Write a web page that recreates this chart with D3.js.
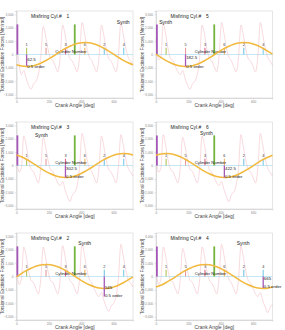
<!DOCTYPE html>
<html>
<head>
<meta charset="utf-8">
<script src="https://cdn.jsdelivr.net/npm/d3@7"></script>
<style>
  body { margin: 0; background: #fff; }
  svg { display: block; font-family: "Liberation Sans", Arial, sans-serif; }
</style>
</head>
<body>
<svg id="chart" width="285" height="330"></svg>
<script>
// crank angle grid of the synthesized excitation curves
const angles = [0, 15, 30, 45, 60, 75, 90, 105, 120, 135, 150, 165, 180, 195, 210, 225, 240, 255,
  270, 285, 300, 315, 330, 345, 360, 375, 390, 405, 420, 435, 450, 465, 480, 495, 510, 525, 540,
  555, 570, 585, 600, 615, 630, 645, 660, 675, 690, 705, 720];

const synth1 = [1000, -600,
  -1500, -1200, -1800, -2300, -2600, -2200, -2000, -1500,
  -200, 2100, 1400, 400, -300, -450, -900, -1300,
  -200, 2200, 1500, 400, -300, -500, -900, -1300,
  -100, 2400, 1600, 500, -200, -450, -900, -1300,
  -200, 2200, 1400, 400, -300, -500, -900, -1300,
  -100, 2400, 1500, 500, -200, -500, -800];
const synth2 = [1200, -400,
  -200, 2300, 1500, 400, -300, -450, -900, -1300,
  -1500, -1200, -1800, -2300, -2600, -2200, -2000, -1500,
  -200, 2200, 1500, 400, -300, -500, -900, -1300,
  -100, 2400, 1600, 500, -200, -450, -900, -1300,
  -200, 2200, 1400, 400, -300, -500, -900, -1300,
  -100, 2400, 1500, 500, -200, -500, -800];
const synth3 = [1000, -500,
  -200, 2200, 1500, 400, -300, -450, -900, -1300,
  -200, 2100, 1400, 400, -300, -450, -900, -1300,
  -1500, -1200, -1800, -2300, -2700, -2200, -2000, -1500,
  -100, 2400, 1600, 500, -200, -450, -900, -1300,
  -200, 2200, 1400, 400, -300, -500, -900, -1300,
  -100, 2300, 1500, 500, -200, -500, -800];
const synth4 = [1100, -500,
  -200, 2300, 1500, 400, -300, -450, -900, -1300,
  -200, 2100, 1400, 400, -300, -450, -900, -1300,
  -200, 2200, 1500, 400, -300, -500, -900, -1300,
  -1500, -1200, -1800, -2300, -2700, -2200, -2000, -1500,
  -200, 2300, 1400, 400, -300, -500, -900, -1300,
  -100, 2400, 1500, 500, -200, -500, -800];
const synth5 = [1000, -600,
  -200, 2200, 1500, 400, -300, -450, -900, -1300,
  -200, 2200, 1400, 400, -300, -450, -900, -1300,
  -200, 2300, 1500, 400, -300, -500, -900, -1300,
  -100, 2400, 1600, 500, -200, -450, -900, -1300,
  -1500, -1200, -1800, -2300, -2600, -2200, -2000, -1500,
  -100, 2400, 1500, 500, -200, -500, -800];
const synth6 = [1000, -600,
  -200, 2200, 1500, 400, -300, -450, -900, -1300,
  -200, 2100, 1400, 400, -300, -450, -900, -1300,
  -200, 2200, 1500, 400, -300, -500, -900, -1300,
  -100, 2400, 1600, 500, -200, -450, -900, -1300,
  -200, 2300, 1400, 400, -300, -500, -900, -1300,
  -1500, -1200, -1800, -2300, -2700, -2300, -2100];

// 0.5 order component
const halfAngles = [0, 30, 60, 90, 120, 150, 180, 210, 240, 270, 300, 330, 360,
  390, 420, 450, 480, 510, 540, 570, 600, 630, 660, 690, 720];
const half1 = [-770, -865, -900, -875, -790, -650, -465, -250, -20, 215, 435, 620, 770,
  865, 900, 875, 790, 650, 465, 250, 20, -215, -435, -620, -770];
const half2 = [20, -215, -435, -620, -770, -865, -900, -875, -790, -650, -465, -250, -20,
  215, 435, 620, 770, 865, 900, 875, 790, 650, 465, 250, 20];
const half3 = [790, 650, 465, 250, 20, -215, -435, -620, -770, -865, -900, -875, -790,
  -650, -465, -250, -20, 215, 435, 620, 770, 865, 900, 875, 790];
const half4 = [770, 865, 900, 875, 790, 650, 465, 250, 20, -215, -435, -620, -770,
  -865, -900, -875, -790, -650, -465, -250, -20, 215, 435, 620, 770];
const half5 = [-20, 215, 435, 620, 770, 865, 900, 875, 790, 650, 465, 250, 20,
  -215, -435, -620, -770, -865, -900, -875, -790, -650, -465, -250, -20];
const half6 = [-790, -650, -465, -250, -20, 215, 435, 620, 770, 865, 900, 875, 790,
  650, 465, 250, 20, -215, -435, -620, -770, -865, -900, -875, -790];

const misfireCyl = [1, 5, 3, 6, 2, 4];
const cylOrder = [1, 5, 3, 6, 2, 4];
const cylAngles = [62.5, 182.5, 302.5, 422.5, 542.5, 662.5];
const cylColors = ["#b3c25a", "#e79a9a", "#e0668a", "#f0b35a", "#74c4e6", "#7ccbe8"];
const markerHeight = 500;
const tdcAngles = [0, 360];
const tdcHeight = 2250;
const phaseLabels = ["62.5", "182.5", "302.5", "422.5", "545", "665"];
const phaseBarValue = [-850, -880, -900, -900, -1500, -850];
const phaseLabelValue = [-490, -340, -340, -340, -930, -290];
const orderLabelValue = [-1010, -1010, -930, -930, -1530, -860];
const synthLabelAngle = [620, 20, 114, 272, 382, 499];
const synthLabelValue = [2280, 2280, 2130, 2250, 2330, 2330];
const yTicks = [-3000, -2000, -1000, 0, 1000, 2000, 3000];
const xTicks = [0, 200, 400, 600];

const synths = [synth1, synth2, synth3, synth4, synth5, synth6];
const halves = [half1, half2, half3, half4, half5, half6];

const svg = d3.select("#chart");
const panelW = 116.5, panelH = 87;

synths.forEach(function (synth, i) {
    const c = i % 2, r = Math.floor(i / 2);
    const left = 16.5 + c * 139.5, top = 11 + r * 111;
    const x = d3.scaleLinear().domain([0, 720]).range([left, left + panelW]);
    const y = d3.scaleLinear().domain([-3250, 3250]).range([top + panelH, top]);
    const g = svg.append("g");

    // frame
    g.append("rect")
        .attr("x", left).attr("y", top)
        .attr("width", panelW).attr("height", panelH)
        .attr("fill", "none").attr("stroke", "#d4d4d4").attr("stroke-width", 0.6);

    const ya = g.append("g")
        .attr("transform", "translate(" + left + ",0)")
        .call(d3.axisLeft(y).tickValues(yTicks).tickSize(1.5).tickPadding(1.5));
    const xa = g.append("g")
        .attr("transform", "translate(0," + (top + panelH) + ")")
        .call(d3.axisBottom(x).tickValues(xTicks).tickSize(1.5).tickPadding(1));
    [ya, xa].forEach(function (a) {
        a.select(".domain").attr("stroke", "#c8c8c8").attr("stroke-width", 0.6);
        a.selectAll(".tick line").attr("stroke", "#c8c8c8").attr("stroke-width", 0.5);
        a.selectAll("text").attr("fill", "#888").style("font-size", "3.2px")
            .style("font-family", "Liberation Sans, Arial, sans-serif");
    });

    g.append("text")
        .attr("transform", "translate(" + (left - 12.5) + "," + (top + panelH / 2) + ") rotate(-90)")
        .attr("text-anchor", "middle")
        .style("font-size", "4.7px").attr("fill", "#444")
        .text("Torsional Excitation Forces [Nm/rad]");
    g.append("text")
        .attr("x", left + panelW / 2).attr("y", top + panelH + 9.3)
        .attr("text-anchor", "middle")
        .style("font-size", "5px").attr("fill", "#444")
        .text("Crank Angle [deg]");

    // zero line
    g.append("line")
        .attr("x1", x(0)).attr("x2", x(720))
        .attr("y1", y(0)).attr("y2", y(0))
        .attr("stroke", "#a9dcef").attr("stroke-width", 0.7);

    // synthesized excitation
    g.append("path")
        .datum(synth)
        .attr("fill", "none")
        .attr("stroke", "#f2a9b4")
        .attr("stroke-opacity", 0.8)
        .attr("stroke-width", 0.55)
        .attr("d", d3.line()
            .x(function (d, k) { return x(angles[k]); })
            .y(function (d) { return y(d); })
            .curve(d3.curveMonotoneX));

    // TDC bars
    g.selectAll(".tdc")
        .data(tdcAngles)
        .enter()
        .append("line")
        .attr("x1", function (d) { return x(d) + (d === 0 ? 0.9 : 0); })
        .attr("x2", function (d) { return x(d) + (d === 0 ? 0.9 : 0); })
        .attr("y1", y(0)).attr("y2", y(tdcHeight))
        .attr("stroke", function (d) { return d === 0 ? "#a457b8" : "#74b33e"; })
        .attr("stroke-width", 1.8);

    // cylinder markers
    g.selectAll(".cyl")
        .data(cylAngles)
        .enter()
        .append("line")
        .attr("x1", function (d) { return x(d); })
        .attr("x2", function (d) { return x(d); })
        .attr("y1", y(0)).attr("y2", y(markerHeight))
        .attr("stroke", function (d, k) { return cylColors[k]; })
        .attr("stroke-width", 1.1);
    g.selectAll(".cylnum")
        .data(cylAngles)
        .enter()
        .append("text")
        .attr("x", function (d) { return x(d); })
        .attr("y", y(markerHeight + 150))
        .attr("text-anchor", "middle")
        .style("font-size", "3.8px").attr("fill", "#333")
        .text(function (d, k) { return cylOrder[k]; });

    g.append("text")
        .attr("x", x(240)).attr("y", y(100))
        .style("font-size", "4.2px").attr("fill", "#222")
        .text("Cylinder Number");

    // 0.5 order
    g.append("path")
        .datum(halves[i])
        .attr("fill", "none")
        .attr("stroke", "#f2b93f")
        .attr("stroke-width", 1.5)
        .attr("d", d3.line()
            .x(function (d, k) { return x(halfAngles[k]); })
            .y(function (d) { return y(d); })
            .curve(d3.curveNatural));

    // misfire phase bar
    g.append("line")
        .attr("x1", x(cylAngles[i])).attr("x2", x(cylAngles[i]))
        .attr("y1", y(0)).attr("y2", y(phaseBarValue[i]))
        .attr("stroke", "#a457b8").attr("stroke-width", 1.3);
    g.append("text")
        .attr("x", x(cylAngles[i]) + 0.6).attr("y", y(phaseLabelValue[i]))
        .style("font-size", "4.4px").attr("fill", "#222")
        .text(phaseLabels[i]);
    g.append("text")
        .attr("x", x(cylAngles[i]) + 0.6).attr("y", y(orderLabelValue[i]))
        .style("font-size", "4.4px").attr("fill", "#222")
        .text("0.5 order");

    g.append("text")
        .attr("x", x(synthLabelAngle[i])).attr("y", y(synthLabelValue[i]))
        .style("font-size", "5px").attr("fill", "#222")
        .text("Synth");

    // title
    g.append("text")
        .attr("x", left + 14.5).attr("y", top + 6.5)
        .style("font-size", "4.9px").attr("fill", "#222")
        .text("Misfiring Cyl.#");
    g.append("text")
        .attr("x", left + 50).attr("y", top + 6.5)
        .style("font-size", "4.9px").attr("fill", "#222")
        .text(misfireCyl[i]);
});
</script>
</body>
</html>
